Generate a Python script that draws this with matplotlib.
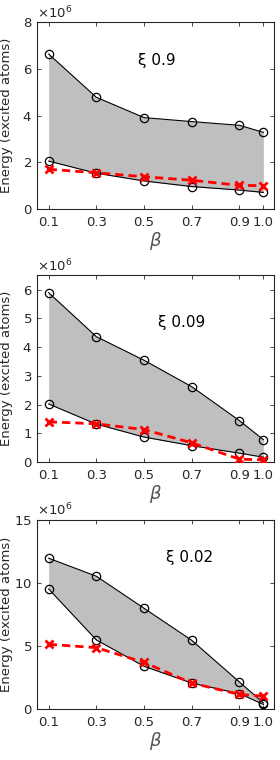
import numpy as np
import matplotlib
matplotlib.use('Agg')
import matplotlib.pyplot as plt
from matplotlib.ticker import ScalarFormatter

# beta values (x axis)
beta = [0.1, 0.3, 0.5, 0.7, 0.9, 1.0]
beta_labels = ['0.1', '0.3', '0.5', '0.7', '0.9', '1.0']

# energies in units of 1e6 excited atoms
upper_09 = [6.63, 4.78, 3.91, 3.74, 3.58, 3.28]
lower_09 = [2.05, 1.53, 1.20, 0.96, 0.81, 0.71]
red_09 = [1.70, 1.55, 1.38, 1.23, 1.01, 1.00]

upper_009 = [5.89, 4.36, 3.54, 2.62, 1.44, 0.78]
lower_009 = [2.02, 1.32, 0.87, 0.57, 0.31, 0.17]
red_009 = [1.40, 1.33, 1.13, 0.67, 0.10, 0.08]

upper_002 = [11.96, 10.53, 7.99, 5.45, 2.14, 0.50]
lower_002 = [9.52, 5.48, 3.39, 2.06, 1.22, 0.37]
red_002 = [5.13, 4.87, 3.70, 2.06, 1.16, 1.03]

xi_labels = ['0.9', '0.09', '0.02']
ylims = [(0, 8), (0, 6.5), (0, 15)]
yticks = [[0, 2, 4, 6, 8], [0, 1, 2, 3, 4, 5, 6], [0, 5, 10, 15]]
text_pos = [(0.475, 6.37), (0.56, 4.87), (0.59, 12.0)]

SCALE = 1e6
TXT = '#262626'

fig = plt.figure(figsize=(2.8, 7.6), dpi=100)
boxes = [
    [0.132, 0.725, 0.846, 0.246],
    [0.132, 0.392, 0.846, 0.246],
    [0.132, 0.067, 0.846, 0.249],
]
panels = [
    (upper_09, lower_09, red_09),
    (upper_009, lower_009, red_009),
    (upper_002, lower_002, red_002),
]

for i, (up, lo, rd) in enumerate(panels):
    ax = fig.add_axes(boxes[i])
    up = np.array(up) * SCALE
    lo = np.array(lo) * SCALE
    rd = np.array(rd) * SCALE

    ax.fill_between(beta, lo, up, color='#bfbfbf', linewidth=0, zorder=1)
    ax.plot(beta, up, color='black', lw=0.8, marker='o', ms=6,
            mfc='none', mec='black', mew=0.9, zorder=3)
    ax.plot(beta, lo, color='black', lw=0.8, marker='o', ms=6,
            mfc='none', mec='black', mew=0.9, zorder=3)
    ax.plot(beta, rd, color='red', lw=2, ls=(0, (3, 1.8)), marker='x', ms=6,
            mew=2, zorder=4)

    ax.set_xlim(0.051, 1.044)
    ax.set_ylim(ylims[i][0] * SCALE, ylims[i][1] * SCALE)
    ax.set_xticks(beta)
    ax.set_xticklabels(beta_labels)
    ax.set_yticks(np.array(yticks[i]) * SCALE)

    fmt = ScalarFormatter(useMathText=True)
    fmt.set_powerlimits((6, 6))
    ax.yaxis.set_major_formatter(fmt)
    ax.yaxis.get_offset_text().set_fontsize(9.5)
    ax.yaxis.get_offset_text().set_color('#555555')

    ax.tick_params(direction='in', top=True, right=True, length=3,
                   width=0.6, labelsize=9.5, colors=TXT)
    ax.tick_params(axis='x', pad=5)
    ax.tick_params(axis='y', pad=3.5)
    for s in ax.spines.values():
        s.set_linewidth(0.8)
        s.set_color(TXT)

    ax.set_ylabel('Energy (excited atoms)', fontsize=9.5, color=TXT)
    ax.yaxis.set_label_coords(-0.1, 0.5)
    ax.set_xlabel(r'$\beta$', fontsize=13, color='#555555', labelpad=1)

    tx, ty = text_pos[i]
    ax.text(tx, ty * SCALE, '\u03be ' + xi_labels[i], fontsize=11,
            color='black', va='center', ha='left')

fig.savefig('out.png', dpi=100)
